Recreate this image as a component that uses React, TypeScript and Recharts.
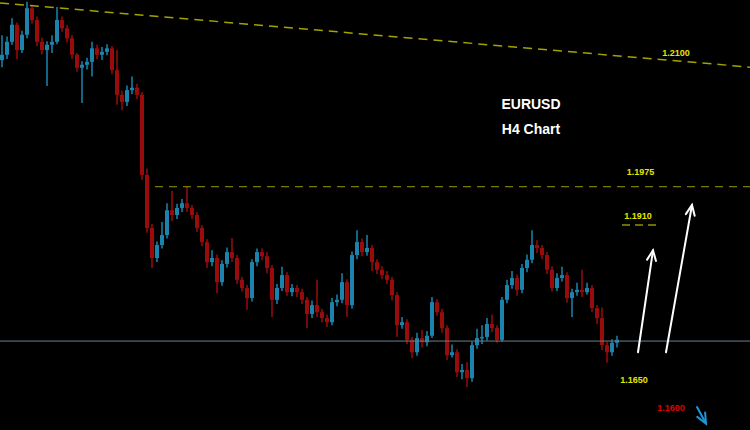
import { ComposedChart, Bar, XAxis, YAxis, ReferenceLine, ReferenceDot } from 'recharts';

// EURUSD H4 candles, left to right (prices)
const firstOpen = 1.2188;
const closes = [
  1.2197, 1.2219, 1.2248, 1.2205, 1.2231, 1.2276, 1.2256, 1.2219, 1.2205, 1.2214,
  1.2219, 1.2256, 1.2242, 1.2225, 1.2197, 1.2175, 1.218, 1.2185, 1.2208, 1.2197,
  1.2202, 1.2208, 1.2171, 1.2129, 1.2117, 1.2137, 1.2141, 1.2129, 1.1993, 1.1903,
  1.1852, 1.1874, 1.1891, 1.1933, 1.1925, 1.1937, 1.1945, 1.1937, 1.1925, 1.1903,
  1.1879, 1.1845, 1.1852, 1.1811, 1.1842, 1.1862, 1.1852, 1.1815, 1.1801, 1.1784,
  1.1845, 1.1862, 1.1855, 1.1835, 1.1781, 1.1801, 1.1823, 1.1794, 1.1801, 1.1794,
  1.1781, 1.1757, 1.1772, 1.176, 1.175, 1.1743, 1.1777, 1.1781, 1.1811, 1.1772,
  1.1857, 1.1879, 1.1862, 1.1869, 1.1845, 1.1832, 1.1823, 1.1815, 1.1789, 1.1738,
  1.1743, 1.1713, 1.1692, 1.1716, 1.1709, 1.172, 1.1777, 1.176, 1.1733, 1.1687,
  1.1692, 1.1658, 1.1662, 1.1648, 1.1704, 1.1716, 1.1718, 1.174, 1.1733, 1.1713,
  1.1781, 1.1806, 1.1818, 1.1798, 1.1835, 1.1849, 1.1874, 1.1869, 1.1857, 1.1832,
  1.1801, 1.1818, 1.1823, 1.1784, 1.1794, 1.1798, 1.1794, 1.1801, 1.1767, 1.175,
  1.1704, 1.1692, 1.1708, 1.1713,
];
const highs = [
  1.223, 1.2228, 1.2259, 1.2252, 1.2238, 1.2287, 1.2282, 1.2262, 1.2226, 1.222,
  1.223, 1.2278, 1.2262, 1.2248, 1.223, 1.22, 1.2186, 1.2192, 1.2219, 1.2214,
  1.221, 1.2215, 1.2212, 1.2205, 1.2136, 1.2145, 1.216, 1.2148, 1.2134, 1.2004,
  1.191, 1.188, 1.1913, 1.1945, 1.1966, 1.1944, 1.1952, 1.1974, 1.1942, 1.193,
  1.1908, 1.1884, 1.1865, 1.1858, 1.1848, 1.187, 1.1886, 1.1857, 1.182, 1.1806,
  1.185, 1.1868, 1.1868, 1.1862, 1.184, 1.1808, 1.1837, 1.1828, 1.1808, 1.1806,
  1.18, 1.1786, 1.178, 1.1815, 1.1766, 1.1756, 1.1784, 1.179, 1.1826, 1.1816,
  1.1863, 1.1899, 1.1885, 1.1891, 1.1874, 1.185, 1.1838, 1.183, 1.182, 1.1794,
  1.1752, 1.1748, 1.1718, 1.1725, 1.173, 1.1728, 1.1786, 1.1782, 1.1766, 1.1738,
  1.1705, 1.1697, 1.1672, 1.1675, 1.171, 1.1732, 1.1738, 1.175, 1.1756, 1.1738,
  1.1786, 1.1815, 1.183, 1.1824, 1.1842, 1.1858, 1.1899, 1.1882, 1.1874, 1.1862,
  1.1838, 1.1826, 1.1837, 1.1828, 1.18, 1.181, 1.1832, 1.181, 1.1806, 1.1772,
  1.1768, 1.171, 1.1714, 1.172,
];
const lows = [
  1.2176, 1.219, 1.2214, 1.219, 1.22, 1.2225, 1.225, 1.2212, 1.2198, 1.2144,
  1.22, 1.2215, 1.2236, 1.2218, 1.219, 1.2168, 1.2115, 1.2172, 1.216, 1.219,
  1.2188, 1.2196, 1.2164, 1.2112, 1.2103, 1.211, 1.213, 1.2122, 1.1985, 1.1895,
  1.1835, 1.1845, 1.1868, 1.1885, 1.1915, 1.1918, 1.193, 1.193, 1.1918, 1.1896,
  1.1872, 1.1835, 1.1838, 1.1792, 1.1805, 1.1836, 1.1845, 1.1808, 1.1795, 1.1764,
  1.1778, 1.1838, 1.1848, 1.1826, 1.1752, 1.1774, 1.1796, 1.1788, 1.1787, 1.1786,
  1.1774, 1.1733, 1.175, 1.1752, 1.1743, 1.1735, 1.1738, 1.177, 1.1775, 1.1752,
  1.1766, 1.185, 1.1855, 1.1856, 1.183, 1.1825, 1.1816, 1.1808, 1.178, 1.1718,
  1.1732, 1.1706, 1.1682, 1.1686, 1.17, 1.1702, 1.1716, 1.1754, 1.1725, 1.1679,
  1.1683, 1.165, 1.1646, 1.1633, 1.1642, 1.1698, 1.1706, 1.1712, 1.1726, 1.1708,
  1.171, 1.1775, 1.18, 1.1788, 1.1792, 1.1828, 1.1843, 1.186, 1.185, 1.1825,
  1.1795, 1.1796, 1.1812, 1.1776, 1.1752, 1.1788, 1.1786, 1.179, 1.176, 1.174,
  1.1696, 1.1674, 1.1686, 1.17,
];

const candles = closes.map((close, i) => ({
  t: i + 0.5,
  open: i === 0 ? firstOpen : closes[i - 1],
  close,
  high: highs[i],
  low: lows[i],
  range: [lows[i], highs[i]],
}));

const BULL = '#1a84ae';
const BEAR = '#9a0b0b';
const YEL = '#e6e600';

function Candle(props: any) {
  const { x, y, width, height, payload } = props;
  const { open, close, high, low } = payload;
  const top = Math.min(y, y + height);
  const h = Math.abs(height);
  const span = high - low || 1e-9;
  const toY = (p: number) => top + ((high - p) / span) * h;
  const color = close >= open ? BULL : BEAR;
  const cx = x + width / 2;
  const bTop = toY(Math.max(open, close));
  const bBot = toY(Math.min(open, close));
  return (
    <g>
      <line x1={cx} x2={cx} y1={top} y2={top + h} stroke={color} strokeWidth={1.5} />
      <rect x={x} y={bTop} width={width} height={Math.max(1.5, bBot - bTop)} fill={color} />
    </g>
  );
}

function Arrow(props: any) {
  const { x1, y1, x2, y2, color } = props;
  const a = Math.atan2(y2 - y1, x2 - x1);
  const len = 11;
  const w = 0.42;
  const p1 = [x2 - len * Math.cos(a - w), y2 - len * Math.sin(a - w)];
  const p2 = [x2 - len * Math.cos(a + w), y2 - len * Math.sin(a + w)];
  return (
    <g stroke={color} strokeWidth={2} fill="none" strokeLinecap="round">
      <line x1={x1} y1={y1} x2={x2} y2={y2} />
      <polyline points={`${p1[0]},${p1[1]} ${x2},${y2} ${p2[0]},${p2[1]}`} />
    </g>
  );
}

const lbl = (value: string, fill: string, size: number) => ({
  value,
  position: 'center' as const,
  fill,
  fontSize: size,
  fontWeight: 'bold',
  fontFamily: '"Liberation Sans", Arial, sans-serif',
});

export default function App() {
  return (
    <div style={{ width: 750, height: 430, background: '#000' }}>
      <style>{'body{margin:0;background:#000}'}</style>
      <ComposedChart width={750} height={430} data={candles} margin={{ top: 0, right: 0, bottom: 0, left: 0 }}>
        <XAxis dataKey="t" type="number" domain={[0, 150]} hide />
        <YAxis type="number" domain={[1.156, 1.229]} hide allowDataOverflow />
        <ReferenceLine
          segment={[{ x: 0, y: 1.2285 }, { x: 150, y: 1.2176 }]}
          stroke="#a3a300"
          strokeWidth={1.5}
          strokeDasharray="9 6"
        />
        <ReferenceLine
          segment={[{ x: 31, y: 1.1973 }, { x: 150, y: 1.1973 }]}
          stroke="#9a9a00"
          strokeWidth={1}
          strokeDasharray="8 6"
        />
        <ReferenceLine
          segment={[{ x: 124.4, y: 1.1908 }, { x: 132, y: 1.1908 }]}
          stroke="#6e6e00"
          strokeWidth={2}
          strokeDasharray="8 5"
        />
        <ReferenceLine y={1.1711} stroke="#6b8090" strokeWidth={1} />
        <Bar dataKey="range" barSize={4} shape={<Candle />} isAnimationActive={false} />
        <ReferenceLine
          segment={[{ x: 127.6, y: 1.1692 }, { x: 130.6, y: 1.1865 }]}
          shape={(p: any) => <Arrow {...p} color="#ffffff" />}
        />
        <ReferenceLine
          segment={[{ x: 133.2, y: 1.1692 }, { x: 138.4, y: 1.1942 }]}
          shape={(p: any) => <Arrow {...p} color="#ffffff" />}
        />
        <ReferenceLine
          segment={[{ x: 139.4, y: 1.1599 }, { x: 141.2, y: 1.1571 }]}
          shape={(p: any) => <Arrow {...p} color="#1e96d8" />}
        />
        <ReferenceDot x={106.2} y={1.2113} r={1} fill="none" stroke="none" label={lbl('EURUSD', '#ffffff', 14)} />
        <ReferenceDot x={106.2} y={1.2071} r={1} fill="none" stroke="none" label={lbl('H4 Chart', '#ffffff', 14)} />
        <ReferenceDot x={135.2} y={1.22} r={1} fill="none" stroke="none" label={lbl('1.2100', YEL, 9)} />
        <ReferenceDot x={128.1} y={1.1998} r={1} fill="none" stroke="none" label={lbl('1.1975', YEL, 9)} />
        <ReferenceDot x={127.6} y={1.1923} r={1} fill="none" stroke="none" label={lbl('1.1910', YEL, 9)} />
        <ReferenceDot x={126.8} y={1.1645} r={1} fill="none" stroke="none" label={lbl('1.1650', YEL, 9)} />
        <ReferenceDot x={134.2} y={1.1597} r={1} fill="none" stroke="none" label={lbl('1.1600', '#e00000', 9)} />
      </ComposedChart>
    </div>
  );
}
